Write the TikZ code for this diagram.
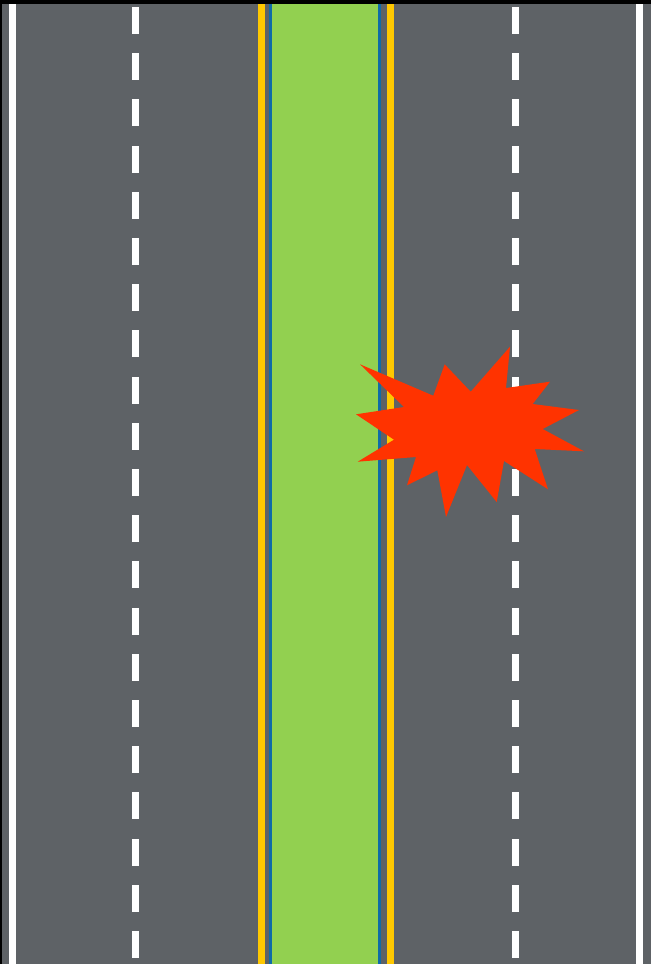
\documentclass[tikz,border=0pt]{standalone}
\definecolor{road}{HTML}{5E6266}
\definecolor{grass}{HTML}{92D050}
\definecolor{edgeblue}{HTML}{0F6BA8}
\definecolor{yellowline}{HTML}{FFC800}
\definecolor{burst}{HTML}{FF3300}
\tikzset{band/.style={fill=#1,draw=none},
  dashmark/.style={fill=white,draw=none}}
\begin{document}
\begin{tikzpicture}[x=1pt,y=-1pt]
\useasboundingbox (0,0) rectangle (651,964);
\fill[black] (0,0) rectangle (651,964);
\path[band=road] (2,4) rectangle (651,964);
\path[band=white] (9,4) rectangle (16,964);
\path[band=white] (636,4) rectangle (643,964);
\path[band=yellowline] (258,4) rectangle (265,964);
\path[band=edgeblue] (269,4) rectangle (272,964);
\path[band=grass] (272,4) rectangle (378,964);
\path[band=edgeblue] (378,4) rectangle (380.5,964);
\path[band=yellowline] (387,4) rectangle (394,964);
\foreach \i in {0,...,20}{
  \path[dashmark] (131.7,7+46.2*\i) rectangle (138.7,34+46.2*\i);
  \path[dashmark] (512.1,7+46.2*\i) rectangle (519.1,34+46.2*\i);
}
\fill[burst] (360,364.3) -- (433.3,395.7) -- (444.7,364.3) -- (470.7,391.7) -- (510,346.7)
 -- (506,388) -- (550,381.7) -- (532.7,404) -- (579,410) -- (542.7,429) -- (584,451.3)
 -- (534.7,449) -- (548,489.3) -- (504,461) -- (496.7,502) -- (467,465) -- (446,517)
 -- (437.3,470.3) -- (407,485.3) -- (416,457) -- (357.7,461.7) -- (394,439.7) -- (356,414.3)
 -- (404,407) -- cycle;
\end{tikzpicture}
\end{document}
